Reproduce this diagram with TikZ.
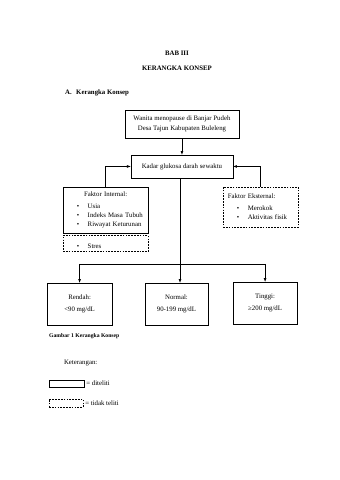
\documentclass[tikz,border=0pt]{standalone}
\usepackage{fontspec}
\setmainfont{Liberation Serif}
\usetikzlibrary{positioning}

\newcommand{\itm}[1]{\par\noindent\hspace*{0.85cm}\makebox[0.68cm][l]{\textbullet}#1}

\begin{document}
\begin{tikzpicture}[
		font=\fontsize{12pt}{16pt}\selectfont,
		box/.style={draw, line width=1.2pt, align=center, inner sep=4pt},
		dbox/.style={box, densely dashed},
		judul/.style={font=\fontsize{12pt}{16pt}\selectfont\bfseries},
		arrow/.style={-latex, line width=1.2pt},
		line/.style={line width=1.2pt}
	]
		\useasboundingbox (0,0) rectangle (21,-29.73);

		\node[judul] (bab) at (10.96,-3.28) {BAB III};
		\node[judul] (kerangka) at (10.96,-4.21) {KERANGKA KONSEP};
		\node[judul, anchor=west, inner sep=0pt] (subbab) at (4.03,-5.76) {A.\hspace{0.4em} Kerangka Konsep};

		\node[box, minimum width=7.06cm, minimum height=1.73cm] (wanita) at (11.27,-7.68)
			{Wanita menopause di Banjar Pudeh\\[1pt]Desa Tajun Kabupaten Buleleng};
		\node[box, minimum width=6.32cm, minimum height=1.42cm] (kadar) at (11.27,-10.31)
			{Kadar glukosa darah sewaktu};

		\node[box, align=left, text width=5.27cm, inner xsep=0pt, minimum height=2.85cm] (internal) at (6.54,-13.01)
			{{\centering Faktor Internal:\par}\vspace{5pt}%
			\itm{Usia}\itm{Indeks Masa Tubuh}\itm{Riwayat Keturunan}};
		\node[dbox, align=left, text width=5.27cm, inner xsep=0pt, minimum height=0.99cm, below=0.12cm of internal] (stres)
			{\itm{Stres}};
		\node[dbox, align=left, text width=4.65cm, inner xsep=0pt, minimum height=2.48cm] (eksternal) at (16.14,-12.82)
			{\noindent\hspace*{0.3cm}Faktor Eksternal:\par\vspace{5pt}%
			\itm{Merokok}\itm{Aktivitas fisik}};

		\node[box, minimum width=4.03cm, minimum height=2.6cm] (rendah) at (4.93,-18.83)
			{Rendah:\\[5pt]<90 mg/dL};
		\node[box, minimum width=3.9cm, minimum height=2.6cm] (normal) at (10.93,-18.83)
			{Normal:\\[5pt]90-199 mg/dL};
		\node[box, minimum width=3.96cm, minimum height=2.6cm] (tinggi) at (16.42,-18.77)
			{Tinggi:\\[5pt]≥200 mg/dL};

		\draw[arrow] (wanita) -- (kadar);
		\draw[arrow] (internal.north) |- (kadar.west);
		\draw[arrow] (eksternal.north) |- (kadar.east);

		\coordinate (cabang) at (11.15,-16.35);
		\draw[arrow] (kadar.south -| cabang) -- (cabang |- normal.north);
		\draw[line] (cabang -| rendah.north) -- (cabang -| tinggi.north);
		\draw[arrow] (cabang -| rendah.north) -- (rendah.north);
		\draw[arrow] (cabang -| tinggi.north) -- (tinggi.north);

		\node[anchor=west, inner sep=0pt, font=\fontsize{10pt}{12pt}\selectfont\bfseries] (gambar) at (3.04,-20.82)
			{Gambar 1 Kerangka Konsep};

		% keterangan
		\node[anchor=west, inner sep=0pt] (ket) at (3.96,-22.49) {Keterangan:};
		\node[box, minimum width=2.17cm, minimum height=0.43cm, inner sep=0pt] (legsolid) at (4.12,-23.76) {};
		\node[right=0pt of legsolid] (legsolidtxt) {= diteliti};
		\node[dbox, minimum width=2.1cm, minimum height=0.5cm, inner sep=0pt] (legdash) at (4.09,-24.97) {};
		\node[right=0pt of legdash] (legdashtxt) {= tidak teliti};
	\end{tikzpicture}
\end{document}
